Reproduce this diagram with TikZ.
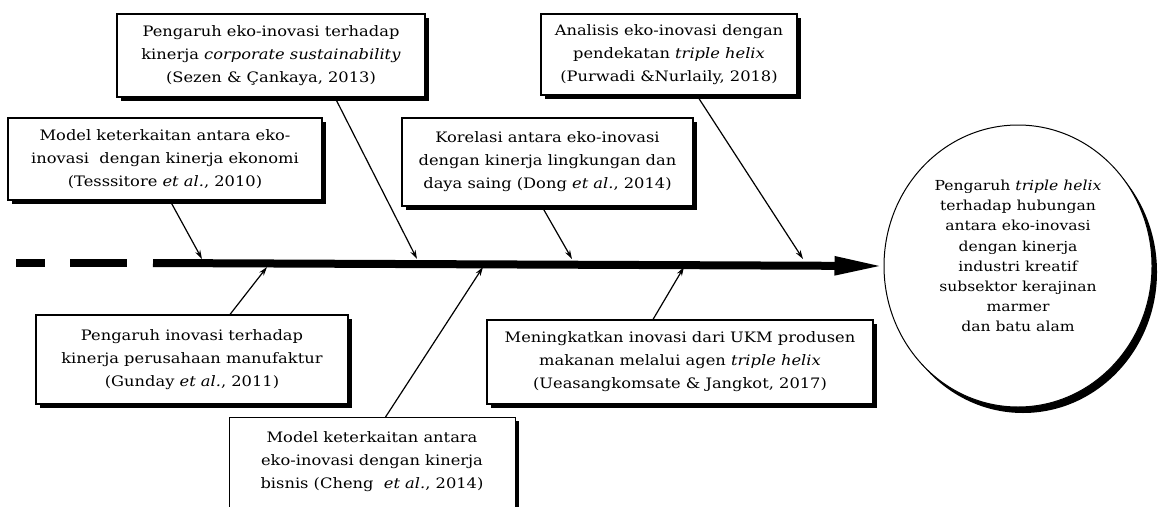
\documentclass[tikz,border=0pt]{standalone}
\usepackage{fontspec}
\setmainfont{DejaVu Serif}[FakeStretch=1.13]
\usetikzlibrary{arrows.meta,shadows,shapes.geometric}

\tikzset{
  refbox/.style={draw=black, line width=1.1pt, fill=white, align=center,
    inner sep=0pt, font=\fontsize{14.4}{23}\selectfont,
    drop shadow={shadow xshift=3.5pt, shadow yshift=-3.5pt, fill=black, opacity=1}},
  boxtext/.style={align=center, inner sep=0pt, font=\fontsize{14.4}{23}\selectfont},
  goalshape/.style={ellipse, draw=black, line width=1pt, fill=white, inner sep=0pt,
    drop shadow={shadow xshift=5pt, shadow yshift=-6pt, fill=black, opacity=1}},
  goaltext/.style={align=center, inner sep=0pt, font=\fontsize{13.8}{20.2}\selectfont},
  bone/.style={line width=1.2pt, -{Stealth[length=9pt,width=5.5pt]}},
  spinetail/.style={line width=8pt, dash pattern=on 29pt off 25pt on 57pt off 26pt},
  spine/.style={line width=8pt, -{Triangle[length=50pt,width=17pt]}, shorten >=-1pt}
}

\begin{document}
\begin{tikzpicture}[x=1pt, y=-1pt]
\useasboundingbox (0,0) rectangle (1161,506);

% effect: the ellipse at the head of the fish
\node[goalshape, minimum width=268pt, minimum height=282pt] (goal) at (1018,266) {};
\node[goaltext] (goaltxt) at (1018,256) {Pengaruh \textit{triple helix}\\terhadap hubungan\\antara eko-inovasi\\dengan kinerja\\industri kreatif\\subsektor kerajinan\\marmer\\dan batu alam};

% backbone
\coordinate (tail) at (16,263);
\coordinate (s0) at (153,263);
\draw[spinetail] (tail) -- (s0);
\draw[spine] (s0) -- (goal.west);

% points where the bones meet the backbone
\coordinate (j1) at (202,259);
\coordinate (j2) at (417,259);
\coordinate (j3) at (572,259);
\coordinate (j4) at (803,259);
\coordinate (j5) at (267,267);
\coordinate (j6) at (483,267);
\coordinate (j7) at (684,267);

% upper causes
\node[refbox, minimum width=308pt, minimum height=83pt] (sezen) at (271,55.5)
  {Pengaruh eko-inovasi terhadap\\kinerja \textit{corporate sustainability}\\(Sezen \& Çankaya, 2013)};
\node[refbox, minimum width=314pt, minimum height=82pt] (tess) at (165,159)
  {Model keterkaitan antara eko-\\inovasi\ \ dengan kinerja ekonomi\\(Tesssitore \textit{et al.}, 2010)};
\node[refbox, minimum width=256pt, minimum height=81pt] (purwadi) at (669,54.5)
  {Analisis eko-inovasi dengan\\pendekatan \textit{triple helix}\\(Purwadi \&Nurlaily, 2018)};
\node[refbox, minimum width=291pt, minimum height=88pt] (dong) at (547.5,162)
  {Korelasi antara eko-inovasi\\dengan kinerja lingkungan dan\\daya saing (Dong \textit{et al.}, 2014)};

% lower causes
\node[refbox, minimum width=312pt, minimum height=89pt] (gunday) at (192,359.5)
  {Pengaruh inovasi terhadap\\kinerja perusahaan manufaktur\\(Gunday \textit{et al.}, 2011)};
\node[refbox, minimum width=386pt, minimum height=84pt] (uea) at (680,362)
  {Meningkatkan inovasi dari UKM produsen\\makanan melalui agen \textit{triple helix}\\(Ueasangkomsate \& Jangkot, 2017)};
\node[refbox, anchor=north west, minimum width=286pt, minimum height=110pt] (cheng) at (229,417) {};
\node[boxtext] (chengtxt) at (372,462)
  {Model keterkaitan antara\\eko-inovasi dengan kinerja\\bisnis (Cheng\ \ \textit{et al.}, 2014)};

% bones
\draw[bone] ([xshift=5pt]tess.south) -- (j1);
\draw[bone] ([xshift=64pt]sezen.south) -- (j2);
\draw[bone] ([xshift=-5.5pt]dong.south) -- (j3);
\draw[bone] ([xshift=28pt]purwadi.south) -- (j4);
\draw[bone] ([xshift=38pt]gunday.north) -- (j5);
\draw[bone] ([xshift=13pt]cheng.north) -- (j6);
\draw[bone] ([xshift=-27pt]uea.north) -- (j7);
\end{tikzpicture}
\end{document}
